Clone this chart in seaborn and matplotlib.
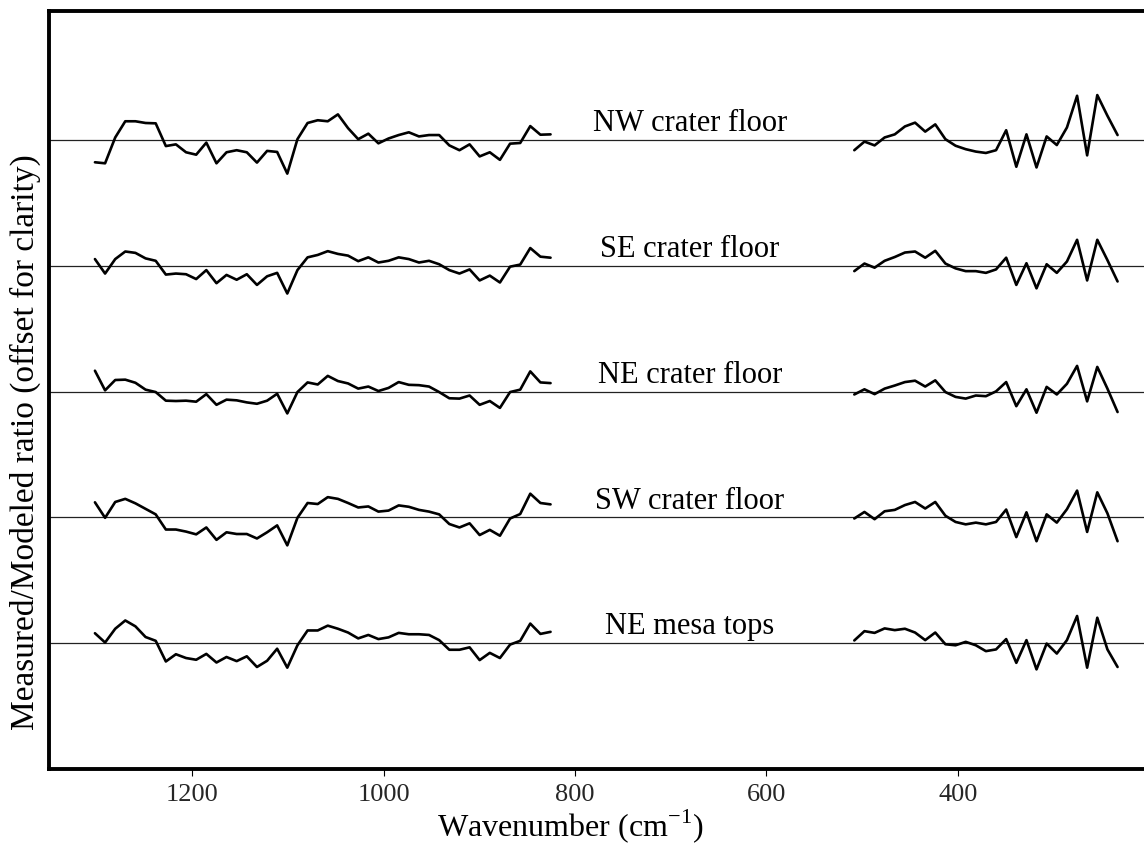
import numpy as np
import pandas as pd
import matplotlib
matplotlib.use("Agg")
import matplotlib.pyplot as plt
import seaborn as sns

# ---------------- data ----------------
wn_high = [1301.6, 1291.0, 1280.4, 1269.9, 1259.3, 1248.7, 1238.1, 1227.5, 1217.0, 1206.4,
           1195.8, 1185.2, 1174.6, 1164.1, 1153.5, 1142.9, 1132.3, 1121.7, 1111.2, 1100.6,
           1090.0, 1079.4, 1068.8, 1058.3, 1047.7, 1037.1, 1026.5, 1015.9, 1005.4, 994.8,
           984.2, 973.6, 963.0, 952.5, 941.9, 931.3, 920.7, 910.1, 899.6, 889.0,
           878.4, 867.8, 857.2, 846.7, 836.1, 825.5]
wn_low = [508.1, 497.5, 486.9, 476.4, 465.8, 455.2, 444.6, 434.0, 423.5, 412.9,
          402.3, 391.7, 381.1, 370.6, 360.0, 349.4, 338.8, 328.2, 317.7, 307.1,
          296.5, 285.9, 275.3, 264.8, 254.2, 243.6, 233.0]

spectra = ["NE mesa tops", "SW crater floor", "NE crater floor", "SE crater floor", "NW crater floor"]
offsets = [0.0, 0.0365, 0.0730, 0.1095, 0.1460]

mesa_high = [1.0029, 1.0002, 1.0042, 1.0066, 1.0049, 1.0018, 1.0007, 0.9947, 0.9968, 0.9957,
             0.9952, 0.9969, 0.9944, 0.9960, 0.9948, 0.9962, 0.9931, 0.9949, 0.9984, 0.9929,
             0.9994, 1.0037, 1.0037, 1.0051, 1.0042, 1.0031, 1.0014, 1.0024, 1.0012, 1.0017,
             1.0030, 1.0026, 1.0026, 1.0024, 1.0009, 0.9981, 0.9981, 0.9988, 0.9951, 0.9972,
             0.9957, 0.9996, 1.0007, 1.0057, 1.0027, 1.0033]
mesa_low = [1.0008, 1.0035, 1.0030, 1.0043, 1.0038, 1.0042, 1.0031, 1.0009, 1.0031, 0.9997,
            0.9994, 1.0004, 0.9994, 0.9977, 0.9982, 1.0012, 0.9943, 1.0009, 0.9924, 0.9999,
            0.9970, 1.0009, 1.0079, 0.9929, 1.0074, 0.9982, 0.9931]

sw_high = [1.0044, 0.9999, 1.0045, 1.0054, 1.0041, 1.0025, 1.0009, 0.9965, 0.9965, 0.9959,
           0.9951, 0.9971, 0.9935, 0.9957, 0.9952, 0.9952, 0.9939, 0.9957, 0.9977, 0.9919,
           0.9999, 1.0042, 1.0039, 1.0059, 1.0054, 1.0042, 1.0029, 1.0032, 1.0017, 1.0020,
           1.0035, 1.0031, 1.0022, 1.0017, 1.0009, 0.9981, 0.9971, 0.9983, 0.9949, 0.9964,
           0.9947, 0.9997, 1.0010, 1.0069, 1.0042, 1.0038]
sw_low = [0.9997, 1.0016, 0.9995, 1.0018, 1.0022, 1.0036, 1.0045, 1.0026, 1.0045, 1.0005,
          0.9987, 0.9980, 0.9985, 0.9980, 0.9987, 1.0023, 0.9943, 1.0015, 0.9931, 1.0009,
          0.9985, 1.0024, 1.0078, 0.9958, 1.0073, 1.0012, 0.9931]

ne_high = [1.0061, 1.0004, 1.0034, 1.0035, 1.0026, 1.0006, 0.9999, 0.9974, 0.9973, 0.9974,
           0.9971, 0.9993, 0.9962, 0.9977, 0.9975, 0.9969, 0.9965, 0.9974, 0.9994, 0.9937,
           0.9999, 1.0027, 1.0021, 1.0046, 1.0031, 1.0024, 1.0009, 1.0015, 1.0002, 1.0011,
           1.0028, 1.0020, 1.0019, 1.0015, 0.9999, 0.9981, 0.9980, 0.9989, 0.9962, 0.9973,
           0.9953, 0.9999, 1.0006, 1.0059, 1.0027, 1.0025]
ne_low = [0.9992, 1.0007, 0.9993, 1.0009, 1.0018, 1.0028, 1.0032, 1.0015, 1.0033, 0.9999,
          0.9985, 0.9980, 0.9989, 0.9987, 1.0001, 1.0028, 0.9958, 1.0007, 0.9939, 1.0014,
          0.9992, 1.0023, 1.0075, 0.9972, 1.0072, 1.0009, 0.9941]

se_high = [1.0020, 0.9978, 1.0020, 1.0042, 1.0038, 1.0022, 1.0015, 0.9975, 0.9978, 0.9976,
           0.9962, 0.9988, 0.9950, 0.9974, 0.9960, 0.9976, 0.9945, 0.9970, 0.9980, 0.9920,
           0.9988, 1.0025, 1.0032, 1.0043, 1.0035, 1.0030, 1.0014, 1.0025, 1.0010, 1.0015,
           1.0025, 1.0020, 1.0010, 1.0015, 1.0005, 0.9988, 0.9978, 0.9990, 0.9958, 0.9972,
           0.9952, 0.9998, 1.0004, 1.0052, 1.0027, 1.0024]
se_low = [0.9985, 1.0007, 0.9995, 1.0015, 1.0026, 1.0039, 1.0042, 1.0024, 1.0044, 1.0007,
          0.9993, 0.9985, 0.9985, 0.9980, 0.9990, 1.0024, 0.9945, 1.0008, 0.9935, 1.0005,
          0.9980, 1.0013, 1.0076, 0.9958, 1.0076, 1.0017, 0.9955]

nw_high = [0.9936, 0.9933, 1.0008, 1.0055, 1.0055, 1.0050, 1.0049, 0.9983, 0.9988, 0.9965,
           0.9958, 0.9993, 0.9933, 0.9965, 0.9971, 0.9965, 0.9935, 0.9969, 0.9966, 0.9903,
           1.0003, 1.0050, 1.0058, 1.0055, 1.0075, 1.0035, 1.0003, 1.0019, 0.9991, 1.0005,
           1.0015, 1.0023, 1.0011, 1.0015, 1.0015, 0.9985, 0.9971, 0.9988, 0.9953, 0.9965,
           0.9943, 0.9990, 0.9992, 1.0041, 1.0016, 1.0017]
nw_low = [0.9971, 0.9996, 0.9985, 1.0008, 1.0017, 1.0040, 1.0051, 1.0025, 1.0046, 1.0003,
          0.9984, 0.9974, 0.9967, 0.9963, 0.9971, 1.0029, 0.9923, 1.0017, 0.9921, 1.0011,
          0.9986, 1.0037, 1.0129, 0.9956, 1.0131, 1.0071, 1.0015]

high_vals = [mesa_high, sw_high, ne_high, se_high, nw_high]
low_vals = [mesa_low, sw_low, ne_low, se_low, nw_low]

xticks = [1200, 1000, 800, 600, 400]
label_x = 680

# ---------------- build long table ----------------
rows = []
for name, off, hv, lv in zip(spectra, offsets, high_vals, low_vals):
    for seg, wn, vals in (("high", wn_high, hv), ("low", wn_low, lv)):
        for w, v in zip(wn, vals):
            rows.append({"wn": w, "y": v + off, "trace": f"{name}-{seg}"})
df = pd.DataFrame(rows)

# ---------------- plot ----------------
sns.set_theme(style="white")
plt.rcParams['font.family'] = ['Liberation Serif', 'DejaVu Serif']
plt.rcParams['mathtext.fontset'] = 'custom'
plt.rcParams['mathtext.rm'] = 'Liberation Serif'

fig = plt.figure(figsize=(11.44, 8.48), dpi=100)
ax = fig.add_axes([0.0425, 0.0932, 0.962, 0.8938])

for off in offsets:
    ax.axhline(1.0 + off, color="#222222", lw=0.9, zorder=1)

sns.lineplot(data=df, x="wn", y="y", units="trace", estimator=None, sort=False,
             color="black", lw=1.9, ax=ax, zorder=2)

for name, off in zip(spectra, offsets):
    ax.text(label_x, 1.0 + off + 0.0026, name, ha="center", va="baseline",
            fontsize=22, color="black")

ax.set_xlim(1350, 200)
ax.set_ylim(1.0 - 0.0365, 1.146 + 0.0375)
ax.set_xticks(xticks)
ax.set_xticklabels([str(t) for t in xticks])
ax.set_yticks([])
ax.tick_params(axis="x", direction="out", length=5, width=0.8, color="black",
               labelsize=19, pad=6, bottom=True)

for side in ("left", "bottom", "top"):
    ax.spines[side].set_visible(True)
    ax.spines[side].set_linewidth(2.8)
    ax.spines[side].set_color("black")
ax.spines["right"].set_visible(False)

ax.set_xlabel("Wavenumber (cm$^{\\mathrm{-1}}$)", fontsize=23, color="black")
ax.set_ylabel("Measured/Modeled ratio (offset for clarity)", fontsize=24, color="black")
ax.xaxis.label.set_verticalalignment("bottom")
ax.xaxis.set_label_coords(0.474, -0.100)
ax.yaxis.set_label_coords(-0.007, 0.431)

fig.savefig("out.png", dpi=100)
